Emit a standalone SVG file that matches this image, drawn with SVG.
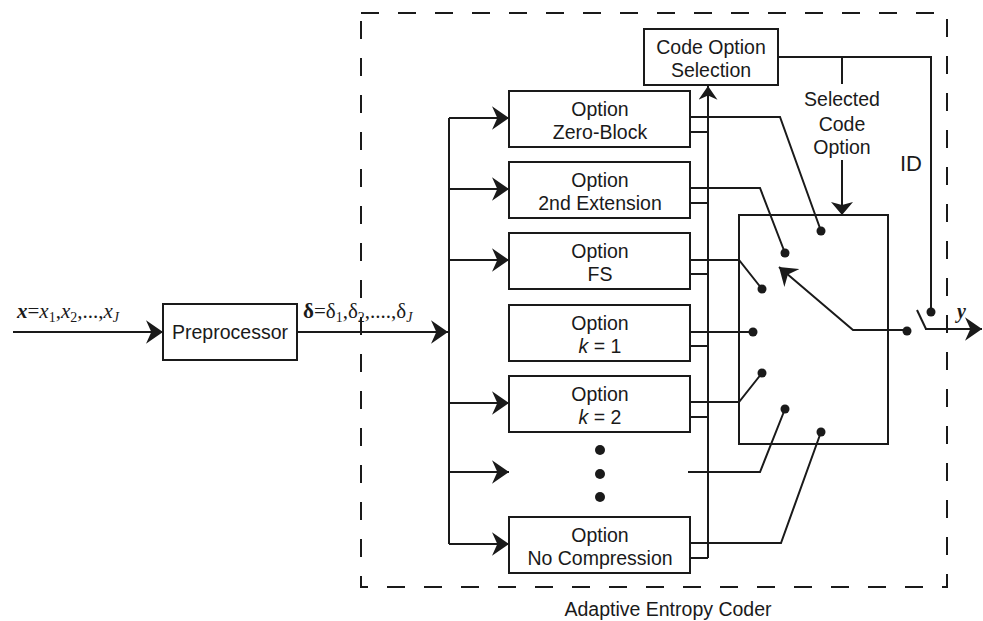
<svg xmlns="http://www.w3.org/2000/svg" width="983" height="621" viewBox="0 0 983 621">
<defs>
<style>
.ln{fill:none;stroke:#1a1a1a;stroke-width:2}
.box{fill:#fff;stroke:#1a1a1a;stroke-width:2}
.dash{fill:none;stroke:#1a1a1a;stroke-width:2;stroke-dasharray:18 19}
.t{font-family:"Liberation Sans",Arial,sans-serif;font-size:19.5px;fill:#1a1a1a;text-anchor:middle}
.s{font-family:"Liberation Serif","Times New Roman",serif;font-size:21px;fill:#1a1a1a}
.dot{fill:#1a1a1a}
</style>
<marker id="arr" viewBox="0 0 16 22" markerWidth="17" markerHeight="24" refX="16" refY="11" orient="auto" markerUnits="userSpaceOnUse">
<path d="M0,0 L16,11 L0,22 L5,11 z" fill="#1a1a1a"/>
</marker>
<marker id="arrs" viewBox="0 0 16 22" markerWidth="14" markerHeight="19" refX="16" refY="11" orient="auto" markerUnits="userSpaceOnUse">
<path d="M0,0 L16,11 L0,22 L5,11 z" fill="#1a1a1a"/>
</marker>
<marker id="tri" viewBox="0 0 13 22" markerWidth="13" markerHeight="22" refX="13" refY="11" orient="auto" markerUnits="userSpaceOnUse">
<path d="M0,0 L13,11 L0,22 L3,11 z" fill="#1a1a1a"/>
</marker>
</defs>
<rect width="983" height="621" fill="#fff"/>

<g id="aec-boundary">
<rect class="dash" x="361" y="13" width="586" height="574"/>
<text class="t" x="668" y="616">Adaptive Entropy Coder</text>
</g>

<g id="connectors">
<line class="ln" x1="13" y1="332" x2="163" y2="332" marker-end="url(#arr)"/>
<line class="ln" x1="297" y1="332" x2="448" y2="332" marker-end="url(#arr)"/>
<line class="ln" x1="449" y1="118" x2="449" y2="544"/>
<line class="ln" x1="449" y1="118" x2="509" y2="118" marker-end="url(#arr)"/>
<line class="ln" x1="449" y1="189" x2="509" y2="189" marker-end="url(#arr)"/>
<line class="ln" x1="449" y1="260" x2="509" y2="260" marker-end="url(#arr)"/>
<line class="ln" x1="449" y1="403" x2="509" y2="403" marker-end="url(#arr)"/>
<line class="ln" x1="449" y1="472" x2="509" y2="472" marker-end="url(#arr)"/>
<line class="ln" x1="449" y1="544" x2="509" y2="544" marker-end="url(#arr)"/>
<line class="ln" x1="708" y1="558" x2="708" y2="86" marker-end="url(#arrs)"/>
<line class="ln" x1="690" y1="132" x2="708" y2="132"/>
<line class="ln" x1="690" y1="203" x2="708" y2="203"/>
<line class="ln" x1="690" y1="274" x2="708" y2="274"/>
<line class="ln" x1="690" y1="346" x2="708" y2="346"/>
<line class="ln" x1="690" y1="417" x2="708" y2="417"/>
<line class="ln" x1="690" y1="558" x2="708" y2="558"/>
<polyline class="ln" points="690,117 780,117 821,231"/>
<polyline class="ln" points="690,188 760,188 785,253"/>
<polyline class="ln" points="690,260 739,260 762,289"/>
<polyline class="ln" points="690,332 753,332"/>
<polyline class="ln" points="690,402 739,402 762,373"/>
<polyline class="ln" points="688,472 760,472 785,409"/>
<polyline class="ln" points="690,543 781,543 821,432"/>
<polyline class="ln" points="778,57 931,57 931,312"/>
<line class="ln" x1="842" y1="57" x2="842" y2="84"/>
<line class="ln" x1="842" y1="160" x2="842" y2="215" marker-end="url(#tri)"/>
<polyline class="ln" points="907,330 853,330 779,267" marker-end="url(#arr)"/>
<line class="ln" x1="917" y1="310" x2="926" y2="329"/>
<line class="ln" x1="925" y1="329" x2="982" y2="329" marker-end="url(#arr)"/>
</g>

<g id="input-label">
<text class="s" x="17" y="318"><tspan font-weight="bold" font-style="italic">x</tspan>=<tspan font-style="italic">x</tspan><tspan font-size="14" dy="4">1</tspan><tspan dy="-4">,</tspan><tspan font-style="italic">x</tspan><tspan font-size="14" dy="4">2</tspan><tspan dy="-4">,...,</tspan><tspan font-style="italic">x</tspan><tspan font-size="14" dy="4" font-style="italic">J</tspan></text>
</g>

<g id="preprocessor">
<rect class="box" x="163" y="304" width="134" height="56"/>
<text class="t" x="230" y="339">Preprocessor</text>
</g>

<g id="delta-label">
<text class="s" x="303" y="318"><tspan font-weight="bold">δ</tspan>=δ<tspan font-size="14" dy="4">1</tspan><tspan dy="-4">,δ</tspan><tspan font-size="14" dy="4">2</tspan><tspan dy="-4">,....,δ</tspan><tspan font-size="14" dy="4" font-style="italic">J</tspan></text>
</g>

<g id="option-zero-block">
<rect class="box" x="509" y="91" width="181" height="56"/>
<text class="t" x="600" y="116">Option</text>
<text class="t" x="600" y="139">Zero-Block</text>
</g>
<g id="option-2nd-extension">
<rect class="box" x="509" y="162" width="181" height="56"/>
<text class="t" x="600" y="187">Option</text>
<text class="t" x="600" y="210">2nd Extension</text>
</g>
<g id="option-fs">
<rect class="box" x="509" y="233" width="181" height="56"/>
<text class="t" x="600" y="258">Option</text>
<text class="t" x="600" y="281">FS</text>
</g>
<g id="option-k1">
<rect class="box" x="509" y="305" width="181" height="56"/>
<text class="t" x="600" y="330">Option</text>
<text class="t" x="600" y="353"><tspan font-style="italic">k</tspan> = 1</text>
</g>
<g id="option-k2">
<rect class="box" x="509" y="376" width="181" height="56"/>
<text class="t" x="600" y="401">Option</text>
<text class="t" x="600" y="424"><tspan font-style="italic">k</tspan> = 2</text>
</g>
<g id="ellipsis">
<circle class="dot" cx="600" cy="450" r="5"/>
<circle class="dot" cx="600" cy="474" r="5"/>
<circle class="dot" cx="600" cy="497" r="5"/>
</g>
<g id="option-no-compression">
<rect class="box" x="509" y="517" width="181" height="56"/>
<text class="t" x="600" y="542">Option</text>
<text class="t" x="600" y="565">No Compression</text>
</g>

<g id="code-option-selection">
<rect class="box" x="644" y="29" width="134" height="56"/>
<text class="t" x="711" y="54">Code Option</text>
<text class="t" x="711" y="77">Selection</text>
</g>

<g id="selected-code-option-label">
<text class="t" x="842" y="106">Selected</text>
<text class="t" x="842" y="131">Code</text>
<text class="t" x="842" y="154">Option</text>
</g>

<g id="id-label">
<text class="t" x="911" y="171" style="font-size:22px">ID</text>
</g>

<g id="switch">
<rect class="ln" x="739" y="215" width="149" height="229"/>
<circle class="dot" cx="821" cy="231" r="4.5"/>
<circle class="dot" cx="785" cy="253" r="4.5"/>
<circle class="dot" cx="762" cy="289" r="4.5"/>
<circle class="dot" cx="753" cy="332" r="4.5"/>
<circle class="dot" cx="762" cy="373" r="4.5"/>
<circle class="dot" cx="785" cy="409" r="4.5"/>
<circle class="dot" cx="821" cy="432" r="4.5"/>
</g>

<g id="output-switch">
<circle class="dot" cx="907" cy="331" r="4.5"/>
<circle class="dot" cx="931" cy="312" r="4.5"/>
<text x="957" y="318" style="font-family:'Liberation Serif',serif;font-size:20px;font-style:italic;font-weight:bold;fill:#1a1a1a">y</text>
</g>
</svg>
